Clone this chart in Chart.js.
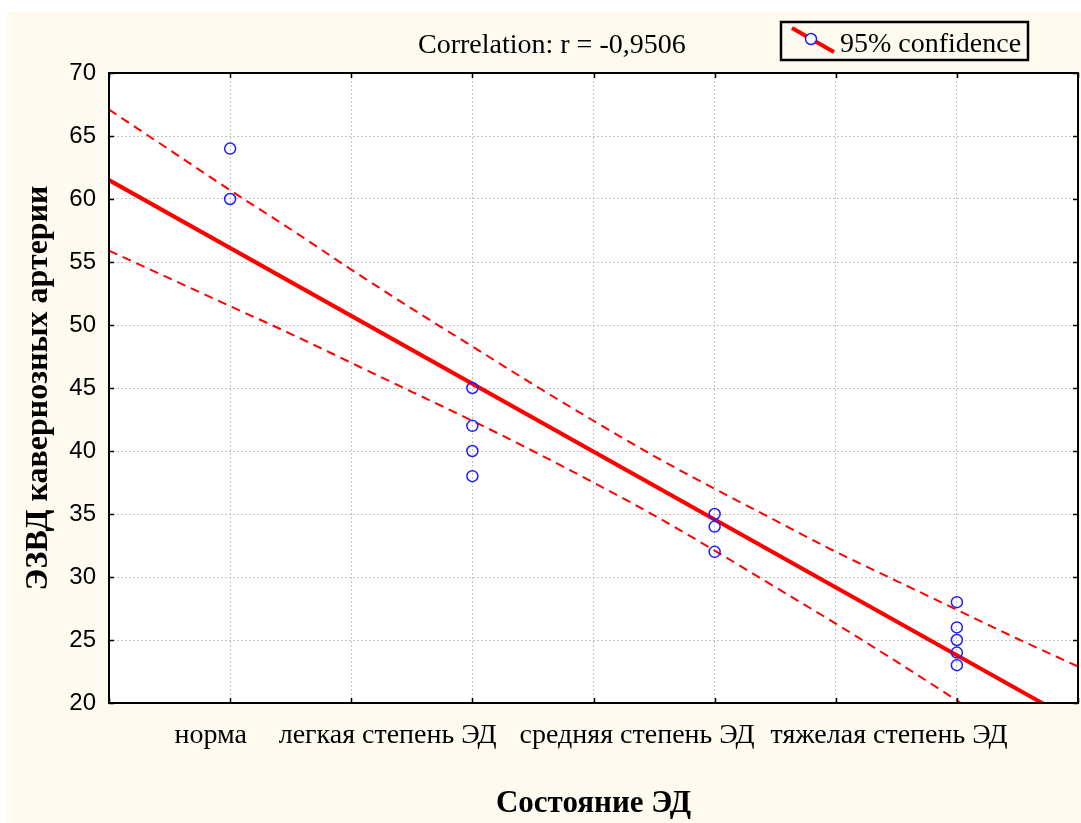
<!DOCTYPE html>
<html>
<head>
<meta charset="utf-8">
<script src="https://cdn.jsdelivr.net/npm/chart.js@4/dist/chart.umd.min.js"></script>
<style>
  html, body { margin: 0; padding: 0; background: #ffffff; }
  #wrap { position: relative; width: 1081px; height: 823px; }
</style>
</head>
<body>
<div id="wrap"><canvas id="chart" width="1081" height="823"></canvas></div>
<script>
// Groups of patients: ЭЗВД values per erectile dysfunction state
const categories = ['норма', 'легкая степень ЭД', 'средняя степень ЭД', 'тяжелая степень ЭД'];
const categoryCodes = [1, 2, 3, 4];
const groupNorma = [64, 60];
const groupMild = [45, 42, 40, 38];
const groupModerate = [35, 34, 32];
const groupSevere = [28, 26, 25, 24, 23];

// Linear fit (end points) and its 95% confidence band
const fitX = [0.5, 4.5];
const fitY = [61.5, 18.4];
const bandX = [0.5, 0.75, 1, 1.25, 1.5, 1.75, 2, 2.25, 2.5, 2.75, 3, 3.25, 3.5, 3.75, 4, 4.25, 4.5];
const bandUpper = [67.1, 63.9, 60.7, 57.6, 54.4, 51.3, 48.3, 45.3, 42.4, 39.6, 37.0, 34.5, 32.0, 29.7, 27.4, 25.1, 22.9];
const bandLower = [55.9, 53.7, 51.5, 49.3, 47.0, 44.7, 42.4, 40.0, 37.5, 34.9, 32.1, 29.2, 26.3, 23.3, 20.2, 17.0, 13.9];

const correlationText = 'Correlation: r = -0,9506';
const legendText = '95% confidence';
const xTitle = 'Состояние ЭД';
const yTitle = 'ЭЗВД кавернозных артерии';

// Where each category caption is centred along the x axis (axis units)
const categoryLabelAnchors = [0.92, 1.65, 2.68, 3.72];

const RED = '#ff0000';
const BLUE = '#1f1fff';
const CREAM = '#fffaf0';
const SERIF = '"Liberation Serif", "Times New Roman", serif';
const SANS = '"Liberation Sans", Arial, sans-serif';

function groupPoints(code, values) {
  return values.map(v => ({ x: code, y: v }));
}
const scatterPoints = [].concat(
  groupPoints(categoryCodes[0], groupNorma),
  groupPoints(categoryCodes[1], groupMild),
  groupPoints(categoryCodes[2], groupModerate),
  groupPoints(categoryCodes[3], groupSevere)
);
const zip = (xs, ys) => xs.map((x, i) => ({ x, y: ys[i] }));

const decorPlugin = {
  id: 'decor',
  beforeDraw(chart) {
    const { ctx, chartArea: a, width, height } = chart;
    ctx.save();
    ctx.fillStyle = '#ffffff';
    ctx.fillRect(0, 0, width, height);
    ctx.fillStyle = CREAM;
    ctx.fillRect(7, 12, width - 7, height - 12);
    ctx.fillStyle = '#ffffff';
    ctx.fillRect(a.left, a.top, a.right - a.left, a.bottom - a.top);
    ctx.restore();
  },
  afterDatasetsDraw(chart) {
    const { ctx, chartArea: a, scales } = chart;
    const xs = scales.x, ys = scales.y;
    ctx.save();
    // inward tick marks on all four sides
    ctx.strokeStyle = '#000000';
    ctx.lineWidth = 1.5;
    ctx.beginPath();
    xs.ticks.forEach(t => {
      const px = Math.round(xs.getPixelForValue(t.value)) + 0.5;
      ctx.moveTo(px, a.bottom); ctx.lineTo(px, a.bottom - 5);
      ctx.moveTo(px, a.top); ctx.lineTo(px, a.top + 5);
    });
    ys.ticks.forEach(t => {
      const py = Math.round(ys.getPixelForValue(t.value)) + 0.5;
      ctx.moveTo(a.left, py); ctx.lineTo(a.left + 5, py);
      ctx.moveTo(a.right, py); ctx.lineTo(a.right - 5, py);
    });
    ctx.stroke();
    // plot frame
    ctx.lineWidth = 2;
    ctx.strokeRect(a.left, a.top, a.right - a.left, a.bottom - a.top);
    ctx.restore();
  },
  afterDraw(chart) {
    const { ctx, chartArea: a, scales } = chart;
    const xs = scales.x;
    ctx.save();
    ctx.fillStyle = '#000000';
    // category captions
    ctx.font = '28px ' + SERIF;
    ctx.textAlign = 'center';
    ctx.textBaseline = 'alphabetic';
    categories.forEach((c, i) => {
      ctx.fillText(c, xs.getPixelForValue(categoryLabelAnchors[i]), 743);
    });
    // x axis title
    ctx.font = 'bold 31px ' + SERIF;
    ctx.fillText(xTitle, (a.left + a.right) / 2, 812);
    // y axis title
    ctx.save();
    ctx.font = 'bold 32px ' + SERIF;
    ctx.translate(47, (a.top + a.bottom) / 2);
    ctx.rotate(-Math.PI / 2);
    ctx.textAlign = 'center';
    ctx.textBaseline = 'alphabetic';
    ctx.fillText(yTitle, 0, 0);
    ctx.restore();
    // correlation caption
    ctx.font = '28px ' + SERIF;
    ctx.textAlign = 'left';
    ctx.fillText(correlationText, 418, 53);
    // legend box
    ctx.fillStyle = CREAM;
    ctx.fillRect(781, 22, 247, 38);
    ctx.strokeStyle = '#000000';
    ctx.lineWidth = 2.5;
    ctx.strokeRect(781, 22, 247, 38);
    ctx.strokeStyle = RED;
    ctx.lineWidth = 4;
    ctx.beginPath();
    ctx.moveTo(792, 28);
    ctx.lineTo(834, 52);
    ctx.stroke();
    ctx.fillStyle = '#ffffff';
    ctx.strokeStyle = BLUE;
    ctx.lineWidth = 1.5;
    ctx.beginPath();
    ctx.arc(811, 39, 5.5, 0, Math.PI * 2);
    ctx.fill();
    ctx.stroke();
    ctx.fillStyle = '#000000';
    ctx.fillText(legendText, 840, 52);
    ctx.restore();
  }
};

new Chart(document.getElementById('chart'), {
  type: 'scatter',
  data: {
    datasets: [
      {
        label: 'points',
        data: scatterPoints,
        showLine: false,
        pointStyle: 'circle',
        pointRadius: 5.5,
        pointBorderWidth: 1.5,
        pointBorderColor: BLUE,
        pointBackgroundColor: 'rgba(255,255,255,0)',
        order: 0
      },
      {
        label: 'fit',
        data: zip(fitX, fitY),
        showLine: true,
        borderColor: RED,
        borderWidth: 4,
        pointRadius: 0,
        order: 1
      },
      {
        label: 'upper',
        data: zip(bandX, bandUpper),
        showLine: true,
        borderColor: RED,
        borderWidth: 2,
        borderDash: [9, 6],
        cubicInterpolationMode: 'monotone',
        pointRadius: 0,
        order: 2
      },
      {
        label: 'lower',
        data: zip(bandX, bandLower),
        showLine: true,
        borderColor: RED,
        borderWidth: 2,
        borderDash: [9, 6],
        cubicInterpolationMode: 'monotone',
        pointRadius: 0,
        order: 2
      }
    ]
  },
  options: {
    responsive: false,
    animation: false,
    devicePixelRatio: 1,
    layout: { autoPadding: false, padding: { left: 0, top: 73, right: 3, bottom: 0 } },
    plugins: { legend: { display: false }, tooltip: { enabled: false } },
    scales: {
      x: {
        type: 'linear',
        min: 0.5,
        max: 4.5,
        ticks: { stepSize: 0.5, display: false },
        grid: { color: '#c4c4c4', lineWidth: 1, drawTicks: false },
        border: { display: false, dash: [2, 2] },
        afterFit(axis) { axis.height = 120; }
      },
      y: {
        type: 'linear',
        min: 20,
        max: 70,
        ticks: {
          stepSize: 5,
          color: '#000000',
          padding: 13,
          font: { family: SANS, size: 24 }
        },
        grid: { color: '#c4c4c4', lineWidth: 1, drawTicks: false },
        border: { display: false, dash: [2, 2] },
        afterFit(axis) { axis.width = 109; }
      }
    }
  },
  plugins: [decorPlugin]
});
</script>
</body>
</html>
